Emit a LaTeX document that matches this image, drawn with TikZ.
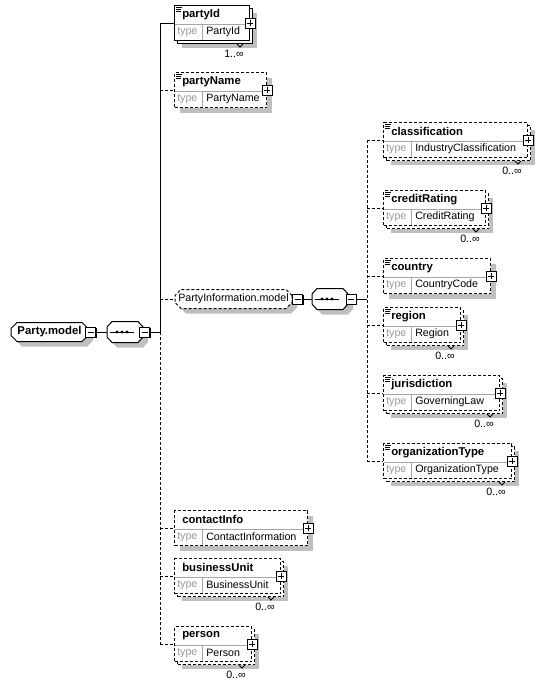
\documentclass[tikz,border=0pt]{standalone}
\usepackage{fontspec}
\setmainfont{Liberation Sans}
\usetikzlibrary{shapes.misc,shadows}
\tikzset{
  conn/.style={draw=black, line width=.75pt},
  opt/.style={dash pattern=on 2.25pt off 1.5pt},
  single/.style={drop shadow={shadow xshift=3.75pt, shadow yshift=-3.75pt, fill=black!25, opacity=1}},
  multi/.style={drop shadow={shadow xshift=5.25pt, shadow yshift=-5.25pt, fill=black!25, opacity=1},
    copy shadow={shadow xshift=2.25pt, shadow yshift=-2.25pt, fill=white, draw=black, line width=.75pt, #1}},
  elem/.style={draw=black, fill=white, line width=.75pt, anchor=north west, inner sep=0pt, minimum height=26.25pt},
  sepline/.style={draw=black!35, line width=.75pt},
  ename/.style={anchor=west, inner sep=0pt, font=\fontsize{8.5}{10}\selectfont\bfseries},
  tlabel/.style={anchor=west, inner sep=0pt, text=black!40},
  tname/.style={anchor=west, inner sep=0pt},
  mult/.style={anchor=east, inner sep=0pt},
  plusbox/.style={draw=black, fill=white, line width=.75pt, minimum size=7.5pt, inner sep=0pt,
    drop shadow={shadow xshift=.75pt, shadow yshift=-.75pt, fill=black, opacity=1},
    path picture={\draw[line width=.6pt] ([xshift=1.5pt]path picture bounding box.west) -- ([xshift=-1.5pt]path picture bounding box.east)
      ([yshift=-1.5pt]path picture bounding box.north) -- ([yshift=1.5pt]path picture bounding box.south);}},
  minusbox/.style={draw=black, fill=white, line width=.75pt, minimum size=7.5pt, inner sep=0pt,
    drop shadow={shadow xshift=.75pt, shadow yshift=-.75pt, fill=black, opacity=1},
    path picture={\draw[line width=.6pt] ([xshift=1.5pt]path picture bounding box.west) -- ([xshift=-1.5pt]path picture bounding box.east);}},
  modelbox/.style={chamfered rectangle, chamfered rectangle xsep=2.25pt, chamfered rectangle ysep=2.25pt,
    draw=black, fill=white, line width=.75pt, inner sep=0pt, minimum height=14.25pt},
  seqbox/.style={inner sep=0pt, minimum width=27pt, minimum height=15.75pt}
}
\begin{document}
\begin{tikzpicture}[x=0.75pt, y=-0.75pt, every node/.style={font=\fontsize{8}{9.6}\selectfont}]
\fill[white] (0,0) rectangle (544,686);
\useasboundingbox (0,0) rectangle (544,686);

% model groups and sequences
\node[modelbox, single, minimum width=77*0.75pt, font=\fontsize{8.5}{10}\selectfont\bfseries] (partymodel) at (49.5,332) {Party.model};
\node[modelbox, opt, single, minimum width=117*0.75pt] (pimodel) at (233.5,299) {PartyInformation.model};
\node[seqbox] (seq1) at (125,332) {};
\node[seqbox] (seq2) at (330,299) {};
\foreach \s in {seq1,seq2} {
  \fill[black!25] ([shift={(5,5)}]\s.center) +(-18,-5) -- +(-13,-10.5) -- +(13,-10.5) -- +(18,-5) -- +(18,5) -- +(13,10.5) -- +(-13,10.5) -- +(-18,5) -- cycle;
  \draw[conn, fill=white] (\s.center) +(-18,-5) -- +(-13,-10.5) -- +(13,-10.5) -- +(18,-5) -- +(18,5) -- +(13,10.5) -- +(-13,10.5) -- +(-18,5) -- cycle;
  \draw[conn] ([shift={(-15,0)}]\s.center) -- ([shift={(9,0)}]\s.center);
  \foreach \d in {-8,-3,2} \fill ([shift={(\d,0)}]\s.center) circle (1.3pt);
}
\node[minusbox] (partymodel-minus) at (90.5,332) {};
\node[minusbox] (seq1-minus) at (144.5,332) {};
\node[minusbox] (pimodel-minus) at (297.5,299) {};
\node[minusbox] (seq2-minus) at (351,299) {};
\coordinate (bus1) at (160,332);
\coordinate (bus2) at (367,299);

% elements: name/left/top/width/type/border/min occurs (-1 = none)/annotation
\foreach \n/\x/\y/\w/\ty/\b/\m/\a in {
  partyId/174/5/75/PartyId/solid/1/1,
  partyName/174/72/92/PartyName/opt/-1/1,
  contactInfo/174/510/133/ContactInformation/opt/-1/0,
  businessUnit/174/558/106/BusinessUnit/opt/0/0,
  person/174/626/77/Person/opt/0/0,
  classification/383/122/144/IndustryClassification/opt/0/1,
  creditRating/383/190/102/CreditRating/opt/0/1,
  country/383/258/107/CountryCode/opt/-1/1,
  region/383/307/77/Region/opt/0/1,
  jurisdiction/383/375/116/GoverningLaw/opt/0/1,
  organizationType/383/443/128/OrganizationType/opt/0/1}{
  \ifnum\m<0
    \node[elem, \b, single, minimum width=\w*0.75pt] (\n) at (\x,\y) {};
  \else
    \node[elem, \b, multi=\b, minimum width=\w*0.75pt] (\n) at (\x,\y) {};
    \draw[conn, line width=.6pt] ([shift={(-13,3)}]\n.south east) -- ++(3,3) -- ++(3,-3);
    \node[mult] (\n-mult) at ([shift={(-6,13)}]\n.south east) {\m..∞};
  \fi
  \draw[sepline] ([shift={(1,19)}]\n.north west) -- ([shift={(-1,19)}]\n.north east);
  \draw[sepline] ([shift={(28,19)}]\n.north west) -- ([shift={(28,-1)}]\n.south west);
  \node[ename] (\n-name) at ([shift={(8,9.5)}]\n.north west) {\n};
  \node[tlabel] (\n-type) at ([shift={(3,27)}]\n.north west) {type};
  \node[tname] (\n-tname) at ([shift={(32,27)}]\n.north west) {\ty};
  \node[plusbox] (\n-plus) at (\n.east) {};
  \ifnum\a=1
    \draw[conn, line width=.6pt] ([shift={(2,2)}]\n.north west) -- ++(6,0) ++(-6,2) -- ++(5,0) ++(-5,2) -- ++(5,0);
  \fi
}

% connectors
\draw[conn] (bus1 |- partyId.west) -- (partyId.west);
\draw[conn] (bus1 |- partyId.west) -- (bus1);
\draw[conn, opt] (bus1) -- (bus1 |- person.west);
\foreach \n in {partyName,pimodel,contactInfo,businessUnit,person}
  \draw[conn, opt] (bus1 |- \n.west) -- (\n.west);
\draw[conn] (partymodel-minus.east) -- (seq1.west);
\draw[conn] (seq1-minus.east) -- (bus1);
\draw[conn] (pimodel-minus.east) -- (seq2.west);
\draw[conn] (seq2-minus.east) -- (bus2);
\draw[conn, opt] (bus2 |- classification.west) -- (bus2 |- organizationType.west);
\foreach \n in {classification,creditRating,country,region,jurisdiction,organizationType}
  \draw[conn, opt] (bus2 |- \n.west) -- (\n.west);
\end{tikzpicture}
\end{document}
